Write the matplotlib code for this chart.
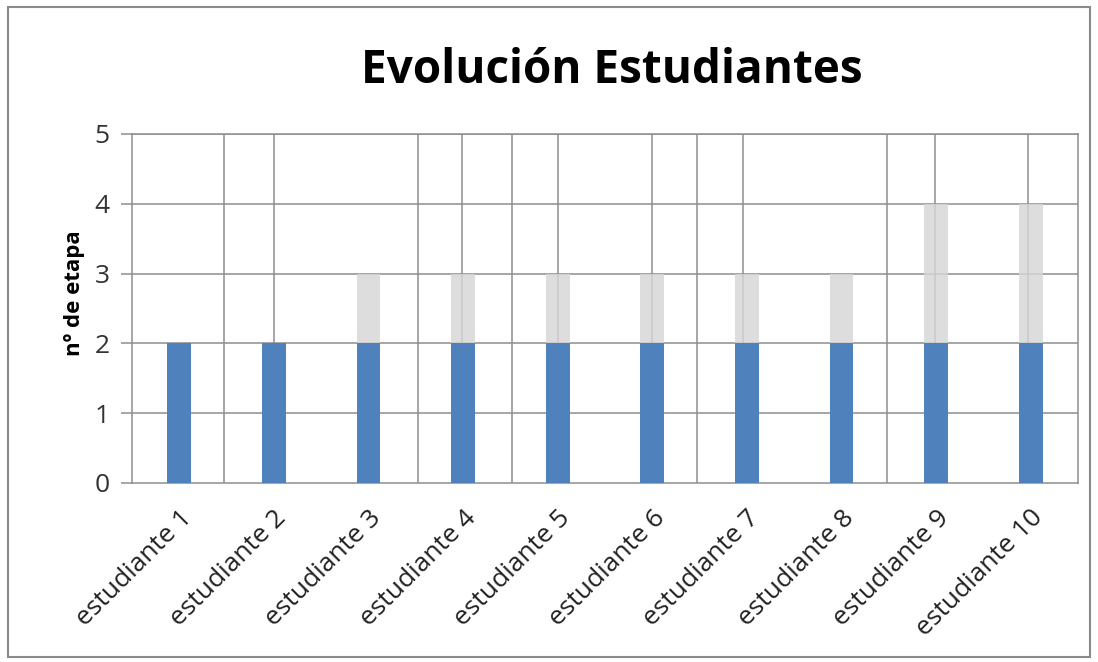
import matplotlib
matplotlib.use("Agg")
import matplotlib.pyplot as plt
from matplotlib.patches import Rectangle

categories = ["estudiante 1", "estudiante 2", "estudiante 3", "estudiante 4", "estudiante 5",
              "estudiante 6", "estudiante 7", "estudiante 8", "estudiante 9", "estudiante 10"]
etapa_base = [2, 2, 2, 2, 2, 2, 2, 2, 2, 2]
etapa_extra = [0, 0, 1, 1, 1, 1, 1, 1, 2, 2]
y_ticks = [0, 1, 2, 3, 4, 5]

plt.rcParams['font.family'] = ['Open Sans', 'DejaVu Sans']

fig = plt.figure(figsize=(10.98, 6.62), dpi=100)
ax = fig.add_axes([0.1202, 0.2704, 0.8616, 0.5272])

grid_c = '#8e8e8e'
x = list(range(len(categories)))
w = 0.25
ax.bar(x, etapa_extra, width=w, bottom=etapa_base, color='#d6d6d6', alpha=0.82, zorder=2.5)
ax.bar(x, etapa_base, width=w, color='#4f81bd', zorder=3)

# vertical grid lines as they appear in the reference
vpos = [0.47, 1.0, 2.52, 2.99, 3.52, 4.0, 5.0, 5.47, 5.96, 7.48, 7.99, 8.97]
for v in vpos:
    ax.axvline(v, color=grid_c, lw=1.1, zorder=2)
for t in y_ticks[1:]:
    ax.axhline(t, color=grid_c, lw=1.1, zorder=0.5)

ax.set_xlim(-0.5, 9.5)
ax.set_ylim(0, 5)
ax.set_yticks(y_ticks)
ax.set_yticklabels([str(t) for t in y_ticks], fontsize=19, color='#333333')
ax.tick_params(axis='y', length=8, color=grid_c, width=1.1, pad=8)
ax.set_xticks(x)
ax.set_xticklabels(categories, rotation=45, ha='right', rotation_mode='anchor',
                   fontsize=19, color='#222222')
ax.tick_params(axis='x', length=0, pad=16)
for s in ax.spines.values():
    s.set_color(grid_c)
    s.set_linewidth(1.1)

ax.set_ylabel("nº de etapa", fontsize=16, fontweight='bold')
ax.yaxis.set_label_coords(-0.050, 0.545)
fig.text(0.557, 0.893, "Evolución Estudiantes", ha='center', va='center',
         fontsize=33, fontweight='bold')

fig.patches.append(Rectangle((0.007, 0.008), 0.986, 0.982, transform=fig.transFigure,
                             fill=False, edgecolor='#8a8a8a', lw=1.5))

fig.savefig("out.png", dpi=100)
